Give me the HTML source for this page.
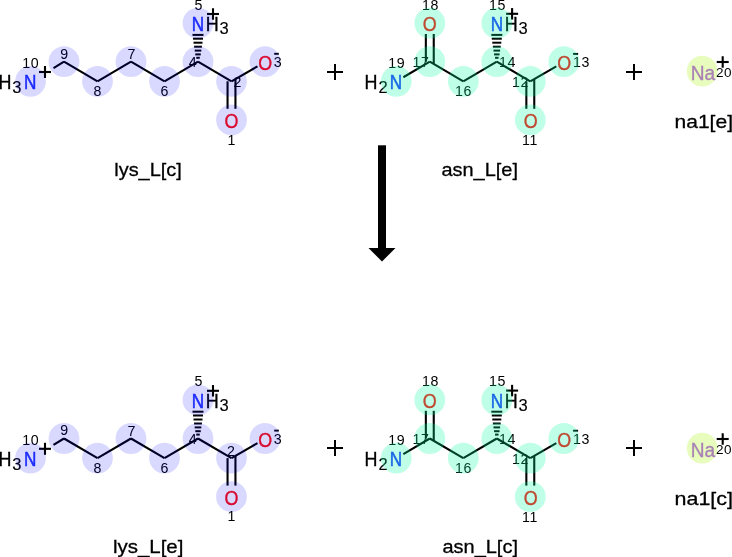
<!DOCTYPE html>
<html><head><meta charset="utf-8"><style>
html,body{margin:0;padding:0;background:#fff;width:732px;height:557px;overflow:hidden}
svg{display:block;will-change:transform}
text{font-family:"Liberation Sans",sans-serif}
</style></head><body>
<svg width="732" height="557" viewBox="0 0 732 557">
<rect width="732" height="557" fill="#fff"/>
<g stroke="#000" fill="#000" stroke-linecap="butt" stroke-linejoin="miter">
<line x1="53.51" y1="68.04" x2="64.00" y2="61.70" stroke-width="2.1"/>
<line x1="64.00" y1="61.70" x2="97.50" y2="81.30" stroke-width="2.1"/>
<line x1="97.50" y1="81.30" x2="131.00" y2="61.70" stroke-width="2.1"/>
<line x1="131.00" y1="61.70" x2="164.50" y2="81.30" stroke-width="2.1"/>
<line x1="164.50" y1="81.30" x2="198.00" y2="61.70" stroke-width="2.1"/>
<line x1="198.00" y1="61.70" x2="231.50" y2="81.30" stroke-width="2.1"/>
<line x1="231.50" y1="81.30" x2="257.50" y2="66.32" stroke-width="2.1"/>
<line x1="227.55" y1="81.30" x2="227.55" y2="108.80" stroke-width="2.1"/>
<line x1="235.45" y1="79.10" x2="235.45" y2="108.80" stroke-width="2.1"/>
<line x1="403.34" y1="77.25" x2="429.80" y2="61.70" stroke-width="2.1"/>
<line x1="429.80" y1="61.70" x2="463.30" y2="81.30" stroke-width="2.1"/>
<line x1="463.30" y1="81.30" x2="496.80" y2="61.70" stroke-width="2.1"/>
<line x1="496.80" y1="61.70" x2="530.30" y2="81.30" stroke-width="2.1"/>
<line x1="530.30" y1="81.30" x2="556.30" y2="66.32" stroke-width="2.1"/>
<line x1="425.85" y1="61.70" x2="425.85" y2="34.00" stroke-width="2.1"/>
<line x1="433.75" y1="63.90" x2="433.75" y2="34.00" stroke-width="2.1"/>
<line x1="526.35" y1="81.30" x2="526.35" y2="108.80" stroke-width="2.1"/>
<line x1="534.25" y1="79.10" x2="534.25" y2="108.80" stroke-width="2.1"/>
<line x1="53.51" y1="444.84" x2="64.00" y2="438.50" stroke-width="2.1"/>
<line x1="64.00" y1="438.50" x2="97.50" y2="458.10" stroke-width="2.1"/>
<line x1="97.50" y1="458.10" x2="131.00" y2="438.50" stroke-width="2.1"/>
<line x1="131.00" y1="438.50" x2="164.50" y2="458.10" stroke-width="2.1"/>
<line x1="164.50" y1="458.10" x2="198.00" y2="438.50" stroke-width="2.1"/>
<line x1="198.00" y1="438.50" x2="231.50" y2="458.10" stroke-width="2.1"/>
<line x1="231.50" y1="458.10" x2="257.50" y2="443.12" stroke-width="2.1"/>
<line x1="227.55" y1="458.10" x2="227.55" y2="485.60" stroke-width="2.1"/>
<line x1="235.45" y1="455.90" x2="235.45" y2="485.60" stroke-width="2.1"/>
<line x1="403.34" y1="454.05" x2="429.80" y2="438.50" stroke-width="2.1"/>
<line x1="429.80" y1="438.50" x2="463.30" y2="458.10" stroke-width="2.1"/>
<line x1="463.30" y1="458.10" x2="496.80" y2="438.50" stroke-width="2.1"/>
<line x1="496.80" y1="438.50" x2="530.30" y2="458.10" stroke-width="2.1"/>
<line x1="530.30" y1="458.10" x2="556.30" y2="443.12" stroke-width="2.1"/>
<line x1="425.85" y1="438.50" x2="425.85" y2="410.80" stroke-width="2.1"/>
<line x1="433.75" y1="440.70" x2="433.75" y2="410.80" stroke-width="2.1"/>
<line x1="526.35" y1="458.10" x2="526.35" y2="485.60" stroke-width="2.1"/>
<line x1="534.25" y1="455.90" x2="534.25" y2="485.60" stroke-width="2.1"/>
</g>
<g fill="#000">
<rect x="192.50" y="33.90" width="11.00" height="2.0"/>
<rect x="193.00" y="37.70" width="10.00" height="2.0"/>
<rect x="193.50" y="41.70" width="9.00" height="2.0"/>
<rect x="194.10" y="45.70" width="7.80" height="2.0"/>
<rect x="194.70" y="49.60" width="6.60" height="2.0"/>
<rect x="195.25" y="53.40" width="5.50" height="2.0"/>
<rect x="196.25" y="56.80" width="3.50" height="2.0"/>
<text transform="translate(5.00,89.10) scale(0.92,1)" font-size="19.5" fill="#000" stroke="#000" stroke-width="0.35" text-anchor="middle">H</text>
<text x="16.80" y="92.90" font-size="16.5" fill="#000" stroke="#000" stroke-width="0.15" text-anchor="middle">3</text>
<text transform="translate(30.20,89.10) scale(0.88,1)" font-size="19.5" fill="#2233ff" stroke="#2233ff" stroke-width="0.5" text-anchor="middle">N</text>
<text transform="translate(30.80,67.80) scale(0.98,1)" font-size="14.5" fill="#000" stroke="#000" stroke-width="0.0" text-anchor="middle" letter-spacing="0.6">10</text>
<rect x="39.00" y="70.95" width="12.00" height="2.10"/>
<rect x="43.95" y="66.00" width="2.10" height="12.00"/>
<text transform="translate(197.90,31.20) scale(0.88,1)" font-size="19.5" fill="#2233ff" stroke="#2233ff" stroke-width="0.5" text-anchor="middle">N</text>
<text transform="translate(212.20,31.20) scale(0.92,1)" font-size="19.5" fill="#000" stroke="#000" stroke-width="0.35" text-anchor="middle">H</text>
<text x="224.00" y="33.90" font-size="16.5" fill="#000" stroke="#000" stroke-width="0.15" text-anchor="middle">3</text>
<text transform="translate(198.40,9.50) scale(0.98,1)" font-size="14.5" fill="#000" stroke="#000" stroke-width="0.0" text-anchor="middle">5</text>
<rect x="207.00" y="12.95" width="12.00" height="2.10"/>
<rect x="211.95" y="8.25" width="2.10" height="11.50"/>
<text transform="translate(265.30,70.30) scale(0.92,1)" font-size="19.5" fill="#ff0d0d" stroke="#ff0d0d" stroke-width="0.35" text-anchor="middle">O</text>
<text transform="translate(277.60,66.70) scale(0.98,1)" font-size="14.5" fill="#000" stroke="#000" stroke-width="0.0" text-anchor="middle">3</text>
<rect x="274.20" y="52.85" width="4.60" height="1.90"/>
<text transform="translate(231.50,128.30) scale(0.92,1)" font-size="19.5" fill="#ff0d0d" stroke="#ff0d0d" stroke-width="0.35" text-anchor="middle">O</text>
<text transform="translate(231.50,144.60) scale(0.98,1)" font-size="14.5" fill="#000" stroke="#000" stroke-width="0.0" text-anchor="middle">1</text>
<text transform="translate(64.30,58.50) scale(0.98,1)" font-size="14.5" fill="#000" stroke="#000" stroke-width="0.0" text-anchor="middle">9</text>
<text transform="translate(97.50,96.10) scale(0.98,1)" font-size="14.5" fill="#000" stroke="#000" stroke-width="0.0" text-anchor="middle">8</text>
<text transform="translate(131.50,59.00) scale(0.98,1)" font-size="14.5" fill="#000" stroke="#000" stroke-width="0.0" text-anchor="middle">7</text>
<text transform="translate(164.50,96.10) scale(0.98,1)" font-size="14.5" fill="#000" stroke="#000" stroke-width="0.0" text-anchor="middle">6</text>
<text transform="translate(192.80,67.40) scale(0.98,1)" font-size="14.5" fill="#000" stroke="#000" stroke-width="0.0" text-anchor="middle">4</text>
<text transform="translate(237.50,86.70) scale(0.98,1)" font-size="14.5" fill="#000" stroke="#000" stroke-width="0.0" text-anchor="middle">2</text>
<rect x="491.30" y="33.90" width="11.00" height="2.0"/>
<rect x="491.80" y="37.70" width="10.00" height="2.0"/>
<rect x="492.30" y="41.70" width="9.00" height="2.0"/>
<rect x="492.90" y="45.70" width="7.80" height="2.0"/>
<rect x="493.50" y="49.60" width="6.60" height="2.0"/>
<rect x="494.05" y="53.40" width="5.50" height="2.0"/>
<rect x="495.05" y="56.80" width="3.50" height="2.0"/>
<text transform="translate(371.00,89.10) scale(0.92,1)" font-size="19.5" fill="#000" stroke="#000" stroke-width="0.35" text-anchor="middle">H</text>
<text x="383.00" y="92.90" font-size="16.5" fill="#000" stroke="#000" stroke-width="0.15" text-anchor="middle">2</text>
<text transform="translate(396.00,89.10) scale(0.88,1)" font-size="19.5" fill="#2233ff" stroke="#2233ff" stroke-width="0.5" text-anchor="middle">N</text>
<text transform="translate(396.80,68.10) scale(0.98,1)" font-size="14.5" fill="#000" stroke="#000" stroke-width="0.0" text-anchor="middle" letter-spacing="0.6">19</text>
<text transform="translate(429.80,31.30) scale(0.92,1)" font-size="19.5" fill="#ff0d0d" stroke="#ff0d0d" stroke-width="0.35" text-anchor="middle">O</text>
<text transform="translate(430.60,9.50) scale(0.98,1)" font-size="14.5" fill="#000" stroke="#000" stroke-width="0.0" text-anchor="middle" letter-spacing="0.6">18</text>
<text transform="translate(421.00,67.20) scale(0.98,1)" font-size="14.5" fill="#000" stroke="#000" stroke-width="0.0" text-anchor="middle" letter-spacing="0.6">17</text>
<text transform="translate(497.00,31.20) scale(0.88,1)" font-size="19.5" fill="#2233ff" stroke="#2233ff" stroke-width="0.5" text-anchor="middle">N</text>
<text transform="translate(511.20,31.20) scale(0.92,1)" font-size="19.5" fill="#000" stroke="#000" stroke-width="0.35" text-anchor="middle">H</text>
<text x="523.00" y="33.90" font-size="16.5" fill="#000" stroke="#000" stroke-width="0.15" text-anchor="middle">3</text>
<text transform="translate(497.60,9.50) scale(0.98,1)" font-size="14.5" fill="#000" stroke="#000" stroke-width="0.0" text-anchor="middle" letter-spacing="0.6">15</text>
<rect x="506.10" y="12.75" width="12.00" height="2.10"/>
<rect x="511.05" y="8.05" width="2.10" height="11.50"/>
<text transform="translate(507.50,67.20) scale(0.98,1)" font-size="14.5" fill="#000" stroke="#000" stroke-width="0.0" text-anchor="middle" letter-spacing="0.6">14</text>
<text transform="translate(463.50,95.90) scale(0.98,1)" font-size="14.5" fill="#000" stroke="#000" stroke-width="0.0" text-anchor="middle" letter-spacing="0.6">16</text>
<text transform="translate(520.60,86.80) scale(0.98,1)" font-size="14.5" fill="#000" stroke="#000" stroke-width="0.0" text-anchor="middle" letter-spacing="0.6">12</text>
<text transform="translate(564.20,69.90) scale(0.92,1)" font-size="19.5" fill="#ff0d0d" stroke="#ff0d0d" stroke-width="0.35" text-anchor="middle">O</text>
<text transform="translate(581.50,67.00) scale(0.98,1)" font-size="14.5" fill="#000" stroke="#000" stroke-width="0.0" text-anchor="middle" letter-spacing="0.6">13</text>
<rect x="573.10" y="52.95" width="5.00" height="1.90"/>
<text transform="translate(530.60,127.90) scale(0.92,1)" font-size="19.5" fill="#ff0d0d" stroke="#ff0d0d" stroke-width="0.35" text-anchor="middle">O</text>
<text transform="translate(530.00,144.80) scale(0.98,1)" font-size="14.5" fill="#000" stroke="#000" stroke-width="0.0" text-anchor="middle" letter-spacing="0.6">11</text>
<text transform="translate(703.00,80.20) scale(0.98,1)" font-size="19.5" fill="#ab5cf2" stroke="#ab5cf2" stroke-width="0.35" text-anchor="middle">Na</text>
<text x="716.00" y="76.60" font-size="13.5" letter-spacing="0.6" fill="#000">20</text>
<rect x="716.70" y="60.95" width="12.00" height="2.10"/>
<rect x="721.65" y="56.25" width="2.10" height="11.50"/>
<rect x="192.50" y="410.70" width="11.00" height="2.0"/>
<rect x="193.00" y="414.50" width="10.00" height="2.0"/>
<rect x="193.50" y="418.50" width="9.00" height="2.0"/>
<rect x="194.10" y="422.50" width="7.80" height="2.0"/>
<rect x="194.70" y="426.40" width="6.60" height="2.0"/>
<rect x="195.25" y="430.20" width="5.50" height="2.0"/>
<rect x="196.25" y="433.60" width="3.50" height="2.0"/>
<text transform="translate(5.00,465.90) scale(0.92,1)" font-size="19.5" fill="#000" stroke="#000" stroke-width="0.35" text-anchor="middle">H</text>
<text x="16.80" y="469.70" font-size="16.5" fill="#000" stroke="#000" stroke-width="0.15" text-anchor="middle">3</text>
<text transform="translate(30.20,465.90) scale(0.88,1)" font-size="19.5" fill="#2233ff" stroke="#2233ff" stroke-width="0.5" text-anchor="middle">N</text>
<text transform="translate(30.80,444.60) scale(0.98,1)" font-size="14.5" fill="#000" stroke="#000" stroke-width="0.0" text-anchor="middle" letter-spacing="0.6">10</text>
<rect x="39.00" y="447.75" width="12.00" height="2.10"/>
<rect x="43.95" y="442.80" width="2.10" height="12.00"/>
<text transform="translate(197.90,408.00) scale(0.88,1)" font-size="19.5" fill="#2233ff" stroke="#2233ff" stroke-width="0.5" text-anchor="middle">N</text>
<text transform="translate(212.20,408.00) scale(0.92,1)" font-size="19.5" fill="#000" stroke="#000" stroke-width="0.35" text-anchor="middle">H</text>
<text x="224.00" y="410.70" font-size="16.5" fill="#000" stroke="#000" stroke-width="0.15" text-anchor="middle">3</text>
<text transform="translate(198.40,386.30) scale(0.98,1)" font-size="14.5" fill="#000" stroke="#000" stroke-width="0.0" text-anchor="middle">5</text>
<rect x="207.00" y="389.75" width="12.00" height="2.10"/>
<rect x="211.95" y="385.05" width="2.10" height="11.50"/>
<text transform="translate(265.30,447.10) scale(0.92,1)" font-size="19.5" fill="#ff0d0d" stroke="#ff0d0d" stroke-width="0.35" text-anchor="middle">O</text>
<text transform="translate(277.60,443.50) scale(0.98,1)" font-size="14.5" fill="#000" stroke="#000" stroke-width="0.0" text-anchor="middle">3</text>
<rect x="274.20" y="429.65" width="4.60" height="1.90"/>
<text transform="translate(231.50,505.10) scale(0.92,1)" font-size="19.5" fill="#ff0d0d" stroke="#ff0d0d" stroke-width="0.35" text-anchor="middle">O</text>
<text transform="translate(231.50,521.40) scale(0.98,1)" font-size="14.5" fill="#000" stroke="#000" stroke-width="0.0" text-anchor="middle">1</text>
<text transform="translate(64.30,435.30) scale(0.98,1)" font-size="14.5" fill="#000" stroke="#000" stroke-width="0.0" text-anchor="middle">9</text>
<text transform="translate(97.50,472.90) scale(0.98,1)" font-size="14.5" fill="#000" stroke="#000" stroke-width="0.0" text-anchor="middle">8</text>
<text transform="translate(131.50,435.80) scale(0.98,1)" font-size="14.5" fill="#000" stroke="#000" stroke-width="0.0" text-anchor="middle">7</text>
<text transform="translate(164.50,472.90) scale(0.98,1)" font-size="14.5" fill="#000" stroke="#000" stroke-width="0.0" text-anchor="middle">6</text>
<text transform="translate(192.80,444.20) scale(0.98,1)" font-size="14.5" fill="#000" stroke="#000" stroke-width="0.0" text-anchor="middle">4</text>
<text transform="translate(231.00,455.60) scale(0.98,1)" font-size="14.5" fill="#000" stroke="#000" stroke-width="0.0" text-anchor="middle">2</text>
<rect x="491.30" y="410.70" width="11.00" height="2.0"/>
<rect x="491.80" y="414.50" width="10.00" height="2.0"/>
<rect x="492.30" y="418.50" width="9.00" height="2.0"/>
<rect x="492.90" y="422.50" width="7.80" height="2.0"/>
<rect x="493.50" y="426.40" width="6.60" height="2.0"/>
<rect x="494.05" y="430.20" width="5.50" height="2.0"/>
<rect x="495.05" y="433.60" width="3.50" height="2.0"/>
<text transform="translate(371.00,465.90) scale(0.92,1)" font-size="19.5" fill="#000" stroke="#000" stroke-width="0.35" text-anchor="middle">H</text>
<text x="383.00" y="469.70" font-size="16.5" fill="#000" stroke="#000" stroke-width="0.15" text-anchor="middle">2</text>
<text transform="translate(396.00,465.90) scale(0.88,1)" font-size="19.5" fill="#2233ff" stroke="#2233ff" stroke-width="0.5" text-anchor="middle">N</text>
<text transform="translate(396.80,444.90) scale(0.98,1)" font-size="14.5" fill="#000" stroke="#000" stroke-width="0.0" text-anchor="middle" letter-spacing="0.6">19</text>
<text transform="translate(429.80,408.10) scale(0.92,1)" font-size="19.5" fill="#ff0d0d" stroke="#ff0d0d" stroke-width="0.35" text-anchor="middle">O</text>
<text transform="translate(430.60,386.30) scale(0.98,1)" font-size="14.5" fill="#000" stroke="#000" stroke-width="0.0" text-anchor="middle" letter-spacing="0.6">18</text>
<text transform="translate(421.00,444.00) scale(0.98,1)" font-size="14.5" fill="#000" stroke="#000" stroke-width="0.0" text-anchor="middle" letter-spacing="0.6">17</text>
<text transform="translate(497.00,408.00) scale(0.88,1)" font-size="19.5" fill="#2233ff" stroke="#2233ff" stroke-width="0.5" text-anchor="middle">N</text>
<text transform="translate(511.20,408.00) scale(0.92,1)" font-size="19.5" fill="#000" stroke="#000" stroke-width="0.35" text-anchor="middle">H</text>
<text x="523.00" y="410.70" font-size="16.5" fill="#000" stroke="#000" stroke-width="0.15" text-anchor="middle">3</text>
<text transform="translate(497.60,386.30) scale(0.98,1)" font-size="14.5" fill="#000" stroke="#000" stroke-width="0.0" text-anchor="middle" letter-spacing="0.6">15</text>
<rect x="506.10" y="389.55" width="12.00" height="2.10"/>
<rect x="511.05" y="384.85" width="2.10" height="11.50"/>
<text transform="translate(507.50,444.00) scale(0.98,1)" font-size="14.5" fill="#000" stroke="#000" stroke-width="0.0" text-anchor="middle" letter-spacing="0.6">14</text>
<text transform="translate(463.50,472.70) scale(0.98,1)" font-size="14.5" fill="#000" stroke="#000" stroke-width="0.0" text-anchor="middle" letter-spacing="0.6">16</text>
<text transform="translate(520.60,463.60) scale(0.98,1)" font-size="14.5" fill="#000" stroke="#000" stroke-width="0.0" text-anchor="middle" letter-spacing="0.6">12</text>
<text transform="translate(564.20,446.70) scale(0.92,1)" font-size="19.5" fill="#ff0d0d" stroke="#ff0d0d" stroke-width="0.35" text-anchor="middle">O</text>
<text transform="translate(581.50,443.80) scale(0.98,1)" font-size="14.5" fill="#000" stroke="#000" stroke-width="0.0" text-anchor="middle" letter-spacing="0.6">13</text>
<rect x="573.10" y="429.75" width="5.00" height="1.90"/>
<text transform="translate(530.60,504.70) scale(0.92,1)" font-size="19.5" fill="#ff0d0d" stroke="#ff0d0d" stroke-width="0.35" text-anchor="middle">O</text>
<text transform="translate(530.00,521.60) scale(0.98,1)" font-size="14.5" fill="#000" stroke="#000" stroke-width="0.0" text-anchor="middle" letter-spacing="0.6">11</text>
<text transform="translate(703.00,457.20) scale(0.98,1)" font-size="19.5" fill="#ab5cf2" stroke="#ab5cf2" stroke-width="0.35" text-anchor="middle">Na</text>
<text x="716.00" y="453.60" font-size="13.5" letter-spacing="0.6" fill="#000">20</text>
<rect x="716.70" y="437.95" width="12.00" height="2.10"/>
<rect x="721.65" y="433.25" width="2.10" height="11.50"/>
<rect x="327.00" y="71.00" width="16.00" height="2.00"/>
<rect x="334.00" y="64.00" width="2.00" height="16.00"/>
<rect x="626.00" y="71.00" width="16.00" height="2.00"/>
<rect x="633.00" y="64.00" width="2.00" height="16.00"/>
<rect x="327.00" y="447.00" width="16.00" height="2.00"/>
<rect x="334.00" y="440.00" width="2.00" height="16.00"/>
<rect x="626.00" y="447.00" width="16.00" height="2.00"/>
<rect x="633.00" y="440.00" width="2.00" height="16.00"/>
<text x="148.00" y="176.00" font-size="19" fill="#000" stroke="#000" stroke-width="0.3" text-anchor="middle" textLength="67.5" lengthAdjust="spacingAndGlyphs">lys_L[c]</text>
<text x="479.70" y="176.00" font-size="19" fill="#000" stroke="#000" stroke-width="0.3" text-anchor="middle" textLength="76.5" lengthAdjust="spacingAndGlyphs">asn_L[e]</text>
<text x="674.50" y="127.80" font-size="19" fill="#000" stroke="#000" stroke-width="0.3" text-anchor="start" textLength="58.5" lengthAdjust="spacingAndGlyphs">na1[e]</text>
<text x="148.15" y="553.00" font-size="19" fill="#000" stroke="#000" stroke-width="0.3" text-anchor="middle" textLength="70.5" lengthAdjust="spacingAndGlyphs">lys_L[e]</text>
<text x="480.20" y="553.00" font-size="19" fill="#000" stroke="#000" stroke-width="0.3" text-anchor="middle" textLength="75.5" lengthAdjust="spacingAndGlyphs">asn_L[c]</text>
<text x="674.50" y="504.80" font-size="19" fill="#000" stroke="#000" stroke-width="0.3" text-anchor="start" textLength="58.5" lengthAdjust="spacingAndGlyphs">na1[c]</text>
<rect x="378" y="145.3" width="8" height="103"/>
<polygon points="368.5,248 395.5,248 382,261.5"/>
</g>
<g>
<circle cx="30.50" cy="81.30" r="15.4" fill="#0000ff" fill-opacity="0.15"/>
<circle cx="64.00" cy="61.70" r="15.4" fill="#0000ff" fill-opacity="0.15"/>
<circle cx="97.50" cy="81.30" r="15.4" fill="#0000ff" fill-opacity="0.15"/>
<circle cx="131.00" cy="61.70" r="15.4" fill="#0000ff" fill-opacity="0.15"/>
<circle cx="164.50" cy="81.30" r="15.4" fill="#0000ff" fill-opacity="0.15"/>
<circle cx="198.00" cy="61.70" r="15.4" fill="#0000ff" fill-opacity="0.15"/>
<circle cx="198.00" cy="23.10" r="15.4" fill="#0000ff" fill-opacity="0.15"/>
<circle cx="231.50" cy="81.30" r="15.4" fill="#0000ff" fill-opacity="0.15"/>
<circle cx="265.00" cy="61.70" r="15.4" fill="#0000ff" fill-opacity="0.15"/>
<circle cx="231.50" cy="119.90" r="15.4" fill="#0000ff" fill-opacity="0.15"/>
<circle cx="396.30" cy="81.30" r="15.4" fill="#00ffa0" fill-opacity="0.25"/>
<circle cx="429.80" cy="61.70" r="15.4" fill="#00ffa0" fill-opacity="0.25"/>
<circle cx="429.80" cy="23.10" r="15.4" fill="#00ffa0" fill-opacity="0.25"/>
<circle cx="463.30" cy="81.30" r="15.4" fill="#00ffa0" fill-opacity="0.25"/>
<circle cx="496.80" cy="61.70" r="15.4" fill="#00ffa0" fill-opacity="0.25"/>
<circle cx="496.80" cy="23.10" r="15.4" fill="#00ffa0" fill-opacity="0.25"/>
<circle cx="530.30" cy="81.30" r="15.4" fill="#00ffa0" fill-opacity="0.25"/>
<circle cx="563.80" cy="61.70" r="15.4" fill="#00ffa0" fill-opacity="0.25"/>
<circle cx="530.30" cy="119.90" r="15.4" fill="#00ffa0" fill-opacity="0.25"/>
<circle cx="702.20" cy="71.20" r="15.4" fill="#a5f300" fill-opacity="0.255"/>
<circle cx="30.50" cy="458.10" r="15.4" fill="#0000ff" fill-opacity="0.15"/>
<circle cx="64.00" cy="438.50" r="15.4" fill="#0000ff" fill-opacity="0.15"/>
<circle cx="97.50" cy="458.10" r="15.4" fill="#0000ff" fill-opacity="0.15"/>
<circle cx="131.00" cy="438.50" r="15.4" fill="#0000ff" fill-opacity="0.15"/>
<circle cx="164.50" cy="458.10" r="15.4" fill="#0000ff" fill-opacity="0.15"/>
<circle cx="198.00" cy="438.50" r="15.4" fill="#0000ff" fill-opacity="0.15"/>
<circle cx="198.00" cy="399.90" r="15.4" fill="#0000ff" fill-opacity="0.15"/>
<circle cx="231.50" cy="458.10" r="15.4" fill="#0000ff" fill-opacity="0.15"/>
<circle cx="265.00" cy="438.50" r="15.4" fill="#0000ff" fill-opacity="0.15"/>
<circle cx="231.50" cy="496.70" r="15.4" fill="#0000ff" fill-opacity="0.15"/>
<circle cx="396.30" cy="458.10" r="15.4" fill="#00ffa0" fill-opacity="0.25"/>
<circle cx="429.80" cy="438.50" r="15.4" fill="#00ffa0" fill-opacity="0.25"/>
<circle cx="429.80" cy="399.90" r="15.4" fill="#00ffa0" fill-opacity="0.25"/>
<circle cx="463.30" cy="458.10" r="15.4" fill="#00ffa0" fill-opacity="0.25"/>
<circle cx="496.80" cy="438.50" r="15.4" fill="#00ffa0" fill-opacity="0.25"/>
<circle cx="496.80" cy="399.90" r="15.4" fill="#00ffa0" fill-opacity="0.25"/>
<circle cx="530.30" cy="458.10" r="15.4" fill="#00ffa0" fill-opacity="0.25"/>
<circle cx="563.80" cy="438.50" r="15.4" fill="#00ffa0" fill-opacity="0.25"/>
<circle cx="530.30" cy="496.70" r="15.4" fill="#00ffa0" fill-opacity="0.25"/>
<circle cx="702.20" cy="448.20" r="15.4" fill="#a5f300" fill-opacity="0.255"/>
</g>
</svg>
</body></html>
